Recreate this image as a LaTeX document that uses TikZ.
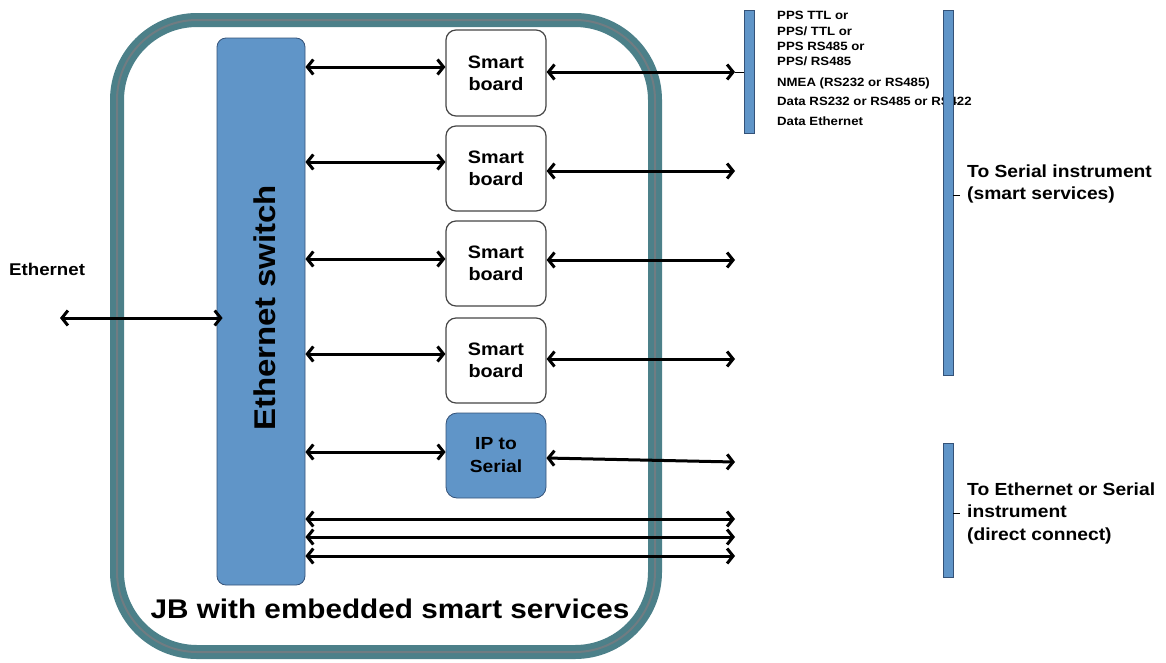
\documentclass[tikz,border=0pt]{standalone}
\usepackage{fontspec}
\setmainfont{Liberation Sans}[FakeStretch=1.1]
\usetikzlibrary{arrows.meta,positioning}

\definecolor{swblue}{RGB}{96,149,200}
\definecolor{swedge}{RGB}{52,82,120}
\definecolor{jbteal}{RGB}{76,128,137}
\definecolor{jbcore}{RGB}{112,124,130}
\definecolor{brdgray}{RGB}{70,70,70}

\tikzset{
  biarrow/.style={line width=3pt,
    {Straight Barb[length=6pt,width=15pt]}-{Straight Barb[length=6pt,width=15pt]}},
  smartbox/.style={draw=brdgray, line width=1.2pt, fill=white, rounded corners=10pt,
    minimum width=100pt, minimum height=85pt, inner sep=0pt,
    font=\bfseries\fontsize{18}{22}\selectfont, align=center},
  ipbox/.style={draw=swedge, line width=0.8pt, fill=swblue, rounded corners=11pt,
    minimum width=100pt, minimum height=85pt, inner sep=0pt,
    font=\bfseries\fontsize{17.5}{23}\selectfont, align=center},
  bar/.style={draw=swedge, line width=0.5pt, fill=swblue, minimum width=10pt, inner sep=0pt},
  sidelabel/.style={anchor=west, font=\bfseries\fontsize{17.5}{22.5}\selectfont, align=left, inner sep=0pt},
  siglabel/.style={anchor=west, font=\bfseries\fontsize{12}{13}\selectfont, inner sep=0pt},
}

\begin{document}
\begin{tikzpicture}[x=1pt,y=-1pt]
\useasboundingbox (0,0) rectangle (1166,662);

% junction box outline
\node[draw=jbteal, double=jbcore, double distance=2pt, line width=6pt,
      rounded corners=80pt, minimum width=538pt, minimum height=632pt, inner sep=0pt]
      (jb) at (386,336) {};
\node[font=\bfseries\fontsize{27}{30}\selectfont, inner sep=0pt] (jblabel) at (390,609)
      {JB with embedded smart services};

% Ethernet switch
\node[draw=swedge, line width=0.8pt, fill=swblue, rounded corners=9pt,
      minimum width=88pt, minimum height=547pt, inner sep=0pt] (sw) at (261,311.5) {};
\node[rotate=90, font=\bfseries\fontsize{30}{34}\selectfont, inner sep=0pt] (swlabel)
      at (265,308) {Ethernet switch};

% boards
\node[smartbox, minimum height=86pt] (b1) at (496,73) {Smart\\board};
\node[smartbox] (b2) at (496,168.5) {Smart\\board};
\node[smartbox] (b3) at (496,263.5) {Smart\\board};
\node[smartbox] (b4) at (496,360.5) {Smart\\board};
\node[ipbox] (ip) at (496,455.5) {IP to\\Serial};

% outside bars
\node[bar, minimum height=123pt] (bsig) at (749,71.5) {};
\node[bar, minimum height=134pt] (bdir) at (948,510) {};

% signal list
\node[siglabel] (s1) at (777,15) {PPS TTL or};
\node[siglabel] (s2) at (777,31) {PPS/ TTL or};
\node[siglabel] (s3) at (777,46) {PPS RS485 or};
\node[siglabel] (s4) at (777,61) {PPS/ RS485};
\node[siglabel] (s5) at (777,83) {NMEA (RS232 or RS485)};
\node[siglabel] (s6) at (777,101) {Data RS232 or RS485 or RS422};
\node[siglabel] (s7) at (777,121) {Data Ethernet};
\node[bar, minimum height=365pt] (bser) at (948,192.5) {};

% instrument labels
\node[sidelabel] (lser) at (967,184) {To Serial instrument\\(smart services)};
\node[sidelabel] (ldir) at (967,513) {To Ethernet or Serial\\instrument\\(direct connect)};
\draw[line width=0.6pt] (bser.east |- 0,195) -- ++(7,0);
\draw[line width=0.6pt] (bdir.east |- 0,513) -- ++(7,0);

% Ethernet uplink
\node[font=\bfseries\fontsize{17}{20}\selectfont, anchor=west, inner sep=0pt] (eth) at (9,269) {Ethernet};
\coordinate (ethend) at (60,318);
\draw[biarrow] (ethend) -- ([xshift=6pt]sw.west |- 0,318);

% switch to boards
\draw[biarrow] (sw.east |- 0,67) -- (b1.west |- 0,67);
\draw[biarrow] (sw.east |- 0,162) -- (b2.west |- 0,162);
\draw[biarrow] (sw.east |- 0,259) -- (b3.west |- 0,259);
\draw[biarrow] (sw.east |- 0,354) -- (b4.west |- 0,354);
\draw[biarrow] (sw.east |- 0,452) -- (ip.west |- 0,452);

% boards to the field
\coordinate (o1) at (735,72);
\coordinate (o2) at (735,171);
\coordinate (o3) at (735,260);
\coordinate (o4) at (735,359);
\coordinate (o5) at (735,462);
\draw[biarrow] (b1.east |- o1) -- (o1);
\draw[line width=0.6pt] (o1) -- (bsig.west |- o1);
\draw[biarrow] (b2.east |- o2) -- (o2);
\draw[biarrow] (b3.east |- o3) -- (o3);
\draw[biarrow] (b4.east |- o4) -- (o4);
\draw[biarrow] (ip.east |- 0,458) -- (o5);

% direct connections
\coordinate (d1) at (735,519);
\coordinate (d2) at (735,537);
\coordinate (d3) at (735,556);
\draw[biarrow] (sw.east |- d1) -- (d1);
\draw[biarrow] (sw.east |- d2) -- (d2);
\draw[biarrow] (sw.east |- d3) -- (d3);
\end{tikzpicture}
\end{document}
